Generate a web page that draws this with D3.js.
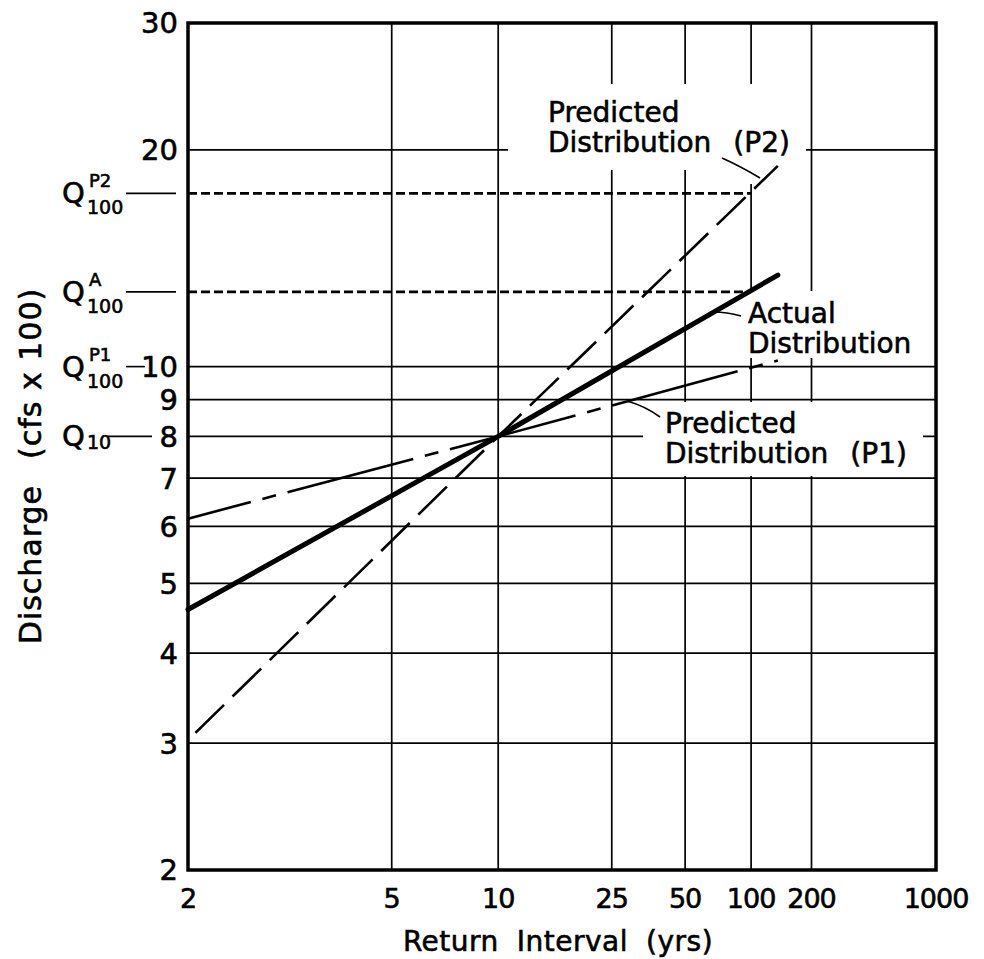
<!DOCTYPE html>
<html>
<head>
<meta charset="utf-8">
<script src="https://cdn.jsdelivr.net/npm/d3@7"></script>
<style>
  html, body { margin: 0; padding: 0; background: #fff; }
  svg { display: block; font-family: "DejaVu Sans", sans-serif; }
  text { fill: #000; stroke: #000; stroke-width: 0.6px; }
</style>
</head>
<body>
<svg id="chart" width="984" height="959"></svg>
<script>
// ---- data -------------------------------------------------------------
const returnTicks = [2, 5, 10, 25, 50, 100, 200, 1000];      // years
const dischargeTicks = [2, 3, 4, 5, 6, 7, 8, 9, 10, 20, 30];  // cfs x 100
const dischargeGrid = [3, 4, 5, 6, 7, 8, 9, 10, 20];

// frequency curves: return interval (yrs) vs discharge (cfs x 100)
const actualT = [2, 10, 135];
const actualQ = [4.6, 8, 13.4];
const p1T = [2, 10, 135];
const p1Q = [6.15, 8, 10.2];
const p2T = [2.05, 10, 135];
const p2Q = [3.1, 8, 19.0];

// design discharges marked on the discharge axis
const qKeys = ["P2", "A", "P1", "10"];
const qValues = [17.4, 12.7, 10, 8];
const qReturn = [100, 100, 100, 10];

// ---- layout -----------------------------------------------------------
const W = 984, H = 959;
const margin = { top: 23, right: 48, bottom: 89, left: 188 };
const svg = d3.select("#chart");

// inverse of the standard normal CDF (Acklam's approximation)
function probit(p) {
  const a = [-3.969683028665376e+01, 2.209460984245205e+02, -2.759285104469687e+02,
             1.383577518672690e+02, -3.066479806614716e+01, 2.506628277459239e+00];
  const b = [-5.447609879822406e+01, 1.615858368580409e+02, -1.556989798598866e+02,
             6.680131188771972e+01, -1.328068155288572e+01];
  const c = [-7.784894002430293e-03, -3.223964580411365e-01, -2.400758277161838e+00,
             -2.549732539343734e+00, 4.374664141464968e+00, 2.938163982698783e+00];
  const d = [7.784695709041462e-03, 3.224671290700398e-01, 2.445134137142996e+00,
             3.754408661907416e+00];
  const pl = 0.02425, ph = 1 - pl;
  let q, r;
  if (p < pl) {
    q = Math.sqrt(-2 * Math.log(p));
    return (((((c[0]*q+c[1])*q+c[2])*q+c[3])*q+c[4])*q+c[5]) /
           ((((d[0]*q+d[1])*q+d[2])*q+d[3])*q+1);
  } else if (p <= ph) {
    q = p - 0.5; r = q * q;
    return (((((a[0]*r+a[1])*r+a[2])*r+a[3])*r+a[4])*r+a[5])*q /
           (((((b[0]*r+b[1])*r+b[2])*r+b[3])*r+b[4])*r+1);
  } else {
    q = Math.sqrt(-2 * Math.log(1 - p));
    return -(((((c[0]*q+c[1])*q+c[2])*q+c[3])*q+c[4])*q+c[5]) /
            ((((d[0]*q+d[1])*q+d[2])*q+d[3])*q+1);
  }
}
const zOf = T => probit(1 - 1 / T);

// probability-paper x axis: return interval mapped through normal quantile
const zScale = d3.scaleLinear()
  .domain([zOf(2), zOf(1000)])
  .range([margin.left, W - margin.right]);
const x = T => zScale(zOf(T));

const y = d3.scaleLog().domain([2, 30]).range([H - margin.bottom, margin.top]);

const x0 = x(2), x1 = x(1000), yTop = y(30), yBot = y(2);

// ---- grid ------------------------------------------------------------
const grid = svg.append("g").attr("stroke", "#000").attr("stroke-width", 1.7);
grid.selectAll("line.v").data(returnTicks.slice(1, -1)).join("line")
  .attr("class", "v")
  .attr("x1", d => x(d)).attr("x2", d => x(d))
  .attr("y1", yTop).attr("y2", yBot);
grid.selectAll("line.h").data(dischargeGrid).join("line")
  .attr("class", "h")
  .attr("x1", x0).attr("x2", x1)
  .attr("y1", d => y(d)).attr("y2", d => y(d));

// white clearings behind the curve annotations
const clear = svg.append("g").attr("fill", "#fff");
[[508, 84, 298, 86], [738, 168, 20, 16],
 [744, 291, 182, 67],
 [643, 402, 280, 74]].forEach(r =>
  clear.append("rect").attr("x", r[0]).attr("y", r[1]).attr("width", r[2]).attr("height", r[3]));

// frame
svg.append("rect")
  .attr("x", x0).attr("y", yTop)
  .attr("width", x1 - x0).attr("height", yBot - yTop)
  .attr("fill", "none").attr("stroke", "#000").attr("stroke-width", 3.5);

// ---- design discharge guides ------------------------------------------
svg.append("g").selectAll("line").data(qValues.slice(0, 2)).join("line")
  .attr("x1", x0).attr("x2", (d, i) => x(qReturn[i]))
  .attr("y1", d => y(d)).attr("y2", d => y(d))
  .attr("stroke", "#000").attr("stroke-width", 2.6)
  .attr("stroke-dasharray", "9 4");

// ---- frequency curves -------------------------------------------------
const line = d3.line().x(d => x(d[0])).y(d => y(d[1]));
const zip = (a, b) => a.map((v, i) => [v, b[i]]);

svg.append("path").datum(zip(p2T, p2Q)).attr("d", line)
  .attr("fill", "none").attr("stroke", "#000").attr("stroke-width", 2.6)
  .attr("stroke-dasharray", "40 12");

svg.append("path").datum(zip(p1T, p1Q)).attr("d", line)
  .attr("fill", "none").attr("stroke", "#000").attr("stroke-width", 2.6)
  .attr("stroke-dasharray", "130 12 14 12").attr("stroke-dashoffset", 65);

svg.append("path").datum(zip(actualT, actualQ)).attr("d", line)
  .attr("fill", "none").attr("stroke", "#000").attr("stroke-width", 5)
  .attr("stroke-linecap", "round");

// ---- annotation leaders -------------------------------------------------
const leaders = svg.append("g").attr("fill", "none").attr("stroke", "#000").attr("stroke-width", 1.6);
leaders.append("path").attr("d", "M722,158 Q740,166 760,178");
leaders.append("path").attr("d", "M713,312 Q727,312 741,316");
leaders.append("path").attr("d", "M627,401 Q645,406 660,417");

// ---- annotation text ----------------------------------------------------
const note = svg.append("g").attr("font-size", 28);
function block(xp, yp, first, second, tag) {
  const t = note.append("text").attr("x", xp).attr("y", yp);
  t.append("tspan").attr("x", xp).text(first);
  t.append("tspan").attr("x", xp).attr("dy", 30).text(second);
  if (tag) t.append("tspan").attr("dx", 22).text(tag);
}
block(548, 122, "Predicted", "Distribution", "(P2)");
block(748, 323, "Actual", "Distribution", null);
block(665, 433, "Predicted", "Distribution", "(P1)");

// ---- axes -------------------------------------------------------------
svg.append("g").selectAll("text").data(dischargeTicks).join("text")
  .attr("x", 178).attr("y", d => y(d)).attr("dy", "0.36em")
  .attr("text-anchor", "end").attr("font-size", 29)
  .text(d => d);

svg.append("g").selectAll("text").data(returnTicks).join("text")
  .attr("x", d => x(d)).attr("y", 908)
  .attr("text-anchor", "middle").attr("font-size", 27)
  .attr("letter-spacing", -1)
  .text(d => d);

const xTitle = svg.append("text")
  .attr("x", (x0 + x1) / 2 - 4).attr("y", 951)
  .attr("text-anchor", "middle").attr("font-size", 28)
  .attr("letter-spacing", 0.5);
xTitle.append("tspan").text("Return");
xTitle.append("tspan").attr("dx", 18).text("Interval");
xTitle.append("tspan").attr("dx", 18).text("(yrs)");

const yTitle = svg.append("text")
  .attr("transform", "translate(41,466) rotate(-90)")
  .attr("text-anchor", "middle").attr("font-size", 30)
  .attr("letter-spacing", 1);
yTitle.append("tspan").text("Discharge");
yTitle.append("tspan").attr("dx", 26).text("(cfs x 100)");

// ---- Q labels on the discharge axis -----------------------------------------
const qg = svg.append("g");
qKeys.forEach((k, i) => {
  const yy = y(qValues[i]);
  const g = qg.append("g");
  g.append("text").attr("x", 62).attr("y", yy + 10).attr("font-size", 29).text("Q");
  if (k === "10") {
    g.append("text").attr("x", 87).attr("y", yy + 13).attr("font-size", 19).text("10");
    g.append("line").attr("x1", 108).attr("x2", 152).attr("y1", yy).attr("y2", yy)
      .attr("stroke", "#000").attr("stroke-width", 1.6);
  } else {
    g.append("text").attr("x", 89).attr("y", yy - 6).attr("font-size", 18).text(k);
    g.append("text").attr("x", 87).attr("y", yy + 21).attr("font-size", 19).text("100");
    g.append("line").attr("x1", 126).attr("x2", k === "P1" ? 145 : 176)
      .attr("y1", yy).attr("y2", yy)
      .attr("stroke", "#000").attr("stroke-width", 1.6);
  }
});
</script>
</body>
</html>
